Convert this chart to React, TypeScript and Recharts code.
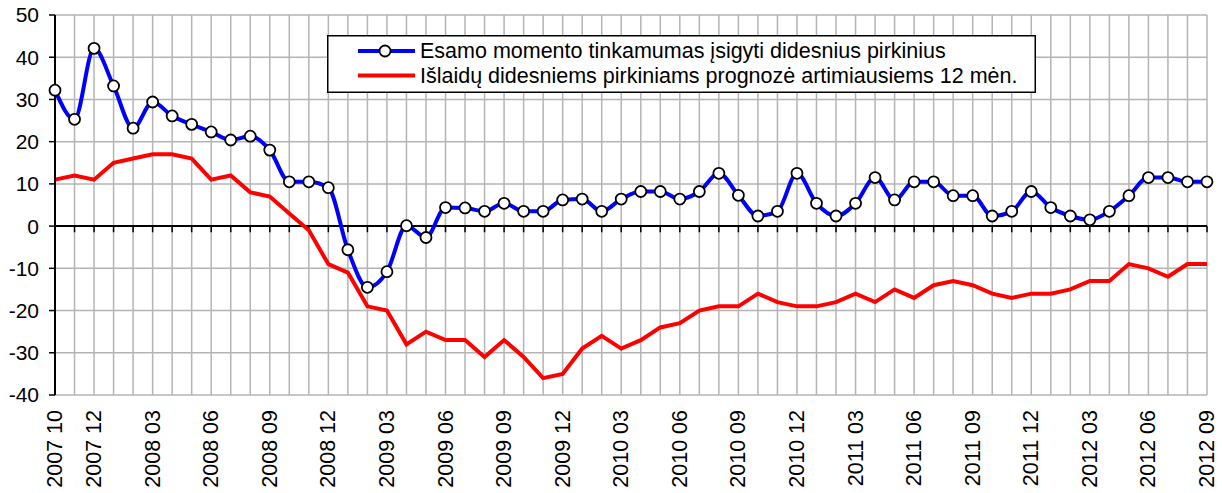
import React from 'react';
import { LineChart, Line, XAxis, YAxis, CartesianGrid, ReferenceLine, Legend } from 'recharts';

const months = [
    '2007 10', '2007 11', '2007 12',
    '2008 01', '2008 02', '2008 03', '2008 04', '2008 05', '2008 06', '2008 07', '2008 08', '2008 09', '2008 10', '2008 11', '2008 12',
    '2009 01', '2009 02', '2009 03', '2009 04', '2009 05', '2009 06', '2009 07', '2009 08', '2009 09', '2009 10', '2009 11', '2009 12',
    '2010 01', '2010 02', '2010 03', '2010 04', '2010 05', '2010 06', '2010 07', '2010 08', '2010 09', '2010 10', '2010 11', '2010 12',
    '2011 01', '2011 02', '2011 03', '2011 04', '2011 05', '2011 06', '2011 07', '2011 08', '2011 09', '2011 10', '2011 11', '2011 12',
    '2012 01', '2012 02', '2012 03', '2012 04', '2012 05', '2012 06', '2012 07', '2012 08', '2012 09',
];

// Esamo momento tinkamumas įsigyti didesnius pirkinius
const currentTiming = [
    32.2, 25.3, 42.1,
    33.2, 23.2, 29.4, 26.1, 24.1, 22.3, 20.4, 21.3, 18.0, 10.5, 10.5, 9.1,
    -5.6, -14.5, -10.8, 0.1, -2.7, 4.4, 4.3, 3.5, 5.4, 3.5, 3.5, 6.2,
    6.4, 3.5, 6.4, 8.2, 8.2, 6.4, 8.2, 12.5, 7.3, 2.4, 3.5, 12.5,
    5.4, 2.4, 5.4, 11.5, 6.2, 10.5, 10.5, 7.2, 7.2, 2.4, 3.5, 8.2,
    4.4, 2.4, 1.5, 3.5, 7.2, 11.5, 11.5, 10.5, 10.5,
];

// Išlaidų didesniems pirkiniams prognozė artimiausiems 12 mėn.
const spendingForecast = [
    11, 12, 11,
    15, 16, 17, 17, 16, 11, 12, 8, 7, 3, -1, -9,
    -11, -19, -20, -28, -25, -27, -27, -31, -27, -31, -36, -35,
    -29, -26, -29, -27, -24, -23, -20, -19, -19, -16, -18, -19,
    -19, -18, -16, -18, -15, -17, -14, -13, -14, -16, -17, -16,
    -16, -15, -13, -13, -9, -10, -12, -9, -9,
];

const labeledMonths = [
    '2007 10', '2007 12', '2008 03', '2008 06', '2008 09', '2008 12', '2009 03', '2009 06', '2009 09', '2009 12',
    '2010 03', '2010 06', '2010 09', '2010 12', '2011 03', '2011 06', '2011 09', '2011 12', '2012 03', '2012 06', '2012 09',
];

const yTicks = [-40, -30, -20, -10, 0, 10, 20, 30, 40, 50];

const blueName = 'Esamo momento tinkamumas įsigyti didesnius pirkinius';
const redName = 'Išlaidų didesniems pirkiniams prognozė artimiausiems 12 mėn.';

const FONT = '"Liberation Sans", Arial, sans-serif';

const data = months.map((month, i) => ({
    month,
    current: currentTiming[i],
    forecast: spendingForecast[i],
}));

const MonthTick = (props: any) => {
    const { x, y, payload } = props;
    if (!labeledMonths.includes(payload.value)) return <g />;
    return (
        <text
            transform={`translate(${x},${y + 7}) rotate(-90)`}
            textAnchor="end"
            dominantBaseline="central"
            fontSize={21.5}
            fontFamily={FONT}
            fill="#000"
        >
            {payload.value}
        </text>
    );
};

const LegendBox = () => (
    <svg width={709} height={58} style={{ display: 'block' }}>
        <rect x={0.75} y={0.75} width={707.5} height={56.5} fill="#fff" stroke="#000" strokeWidth={1.5} />
        <line x1={31} x2={88} y1={16} y2={16} stroke="#0000ff" strokeWidth={4} />
        <circle cx={58} cy={16} r={5.5} fill="#fff" stroke="#000" strokeWidth={1.8} />
        <line x1={31} x2={88} y1={40.5} y2={40.5} stroke="#ff0000" strokeWidth={4} />
        <text x={93} y={23} fontSize={21.5} fontFamily={FONT} fill="#000">{blueName}</text>
        <text x={93} y={48} fontSize={21.5} fontFamily={FONT} fill="#000">{redName}</text>
    </svg>
);

export default function App() {
    return (
        <div style={{ position: 'absolute', left: 0, top: 0, background: '#fff' }}>
            <LineChart width={1222} height={493} data={data} margin={{ top: 15, right: 15, bottom: 0, left: 0 }}>
                <CartesianGrid stroke="#b4b4b4" strokeWidth={1.5} />
                <XAxis
                    dataKey="month"
                    interval={0}
                    height={98}
                    axisLine={false}
                    tickLine={false}
                    tick={MonthTick}
                />
                <YAxis
                    domain={[-40, 50]}
                    ticks={yTicks}
                    interval={0}
                    width={55}
                    axisLine={{ stroke: '#000', strokeWidth: 2 }}
                    tickLine={{ stroke: '#000', strokeWidth: 1.5 }}
                    tickSize={6}
                    tickMargin={10}
                    tick={{ fontSize: 21, fill: '#000', fontFamily: FONT }}
                />
                <ReferenceLine y={0} stroke="#000" strokeWidth={2} />
                {months.map((m) => (
                    <ReferenceLine
                        key={m}
                        segment={[{ x: m, y: 0 }, { x: m, y: -1.45 }]}
                        stroke="#000"
                        strokeWidth={1.5}
                    />
                ))}
                <Legend
                    layout="vertical"
                    align="center"
                    verticalAlign="middle"
                    content={LegendBox}
                    wrapperStyle={{ left: 327, top: 35, width: 709, height: 58 }}
                />
                <Line
                    dataKey="forecast"
                    name={redName}
                    type="linear"
                    stroke="#ff0000"
                    strokeWidth={4}
                    dot={false}
                    activeDot={false}
                    isAnimationActive={false}
                />
                <Line
                    dataKey="current"
                    name={blueName}
                    type="monotone"
                    stroke="#0000ff"
                    strokeWidth={4}
                    dot={{ r: 5.5, fill: '#fff', stroke: '#000', strokeWidth: 1.8 }}
                    activeDot={false}
                    isAnimationActive={false}
                />
            </LineChart>
        </div>
    );
}
